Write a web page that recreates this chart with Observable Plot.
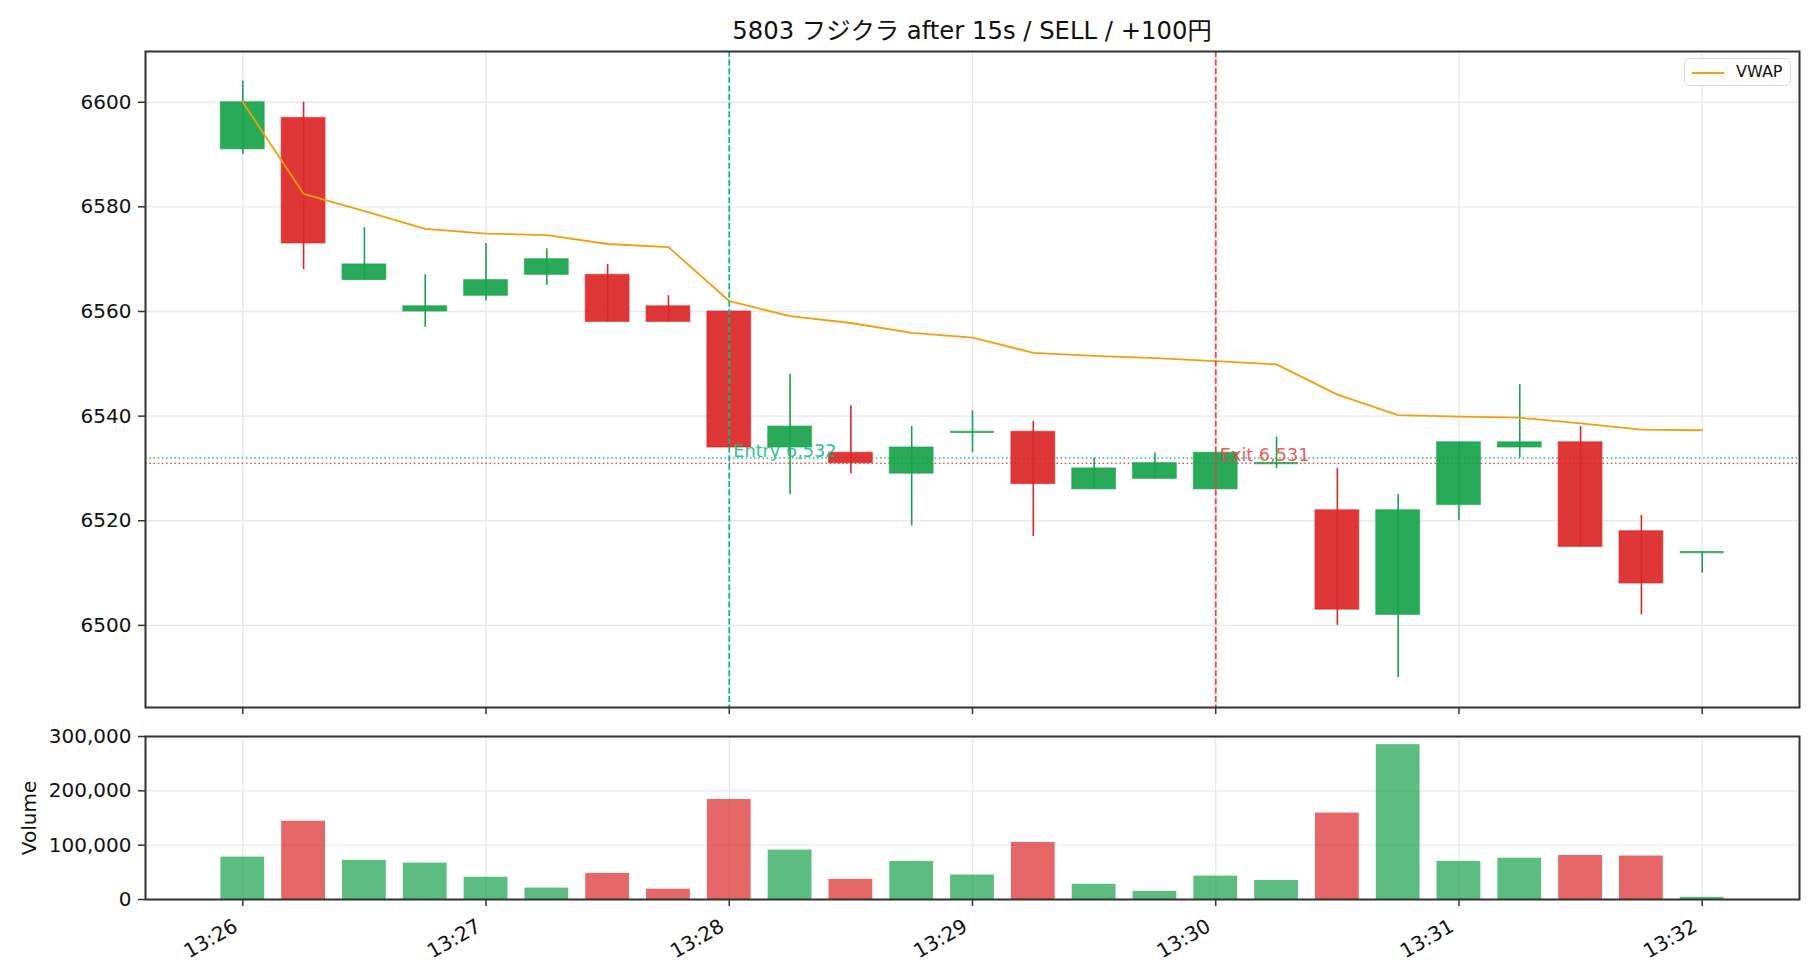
<!DOCTYPE html>
<html>
<head>
<meta charset="utf-8">
<script src="https://cdn.jsdelivr.net/npm/d3@7"></script>
<script src="https://cdn.jsdelivr.net/npm/@observablehq/plot@0.6"></script>
<style>
  html, body { margin: 0; padding: 0; background: #fff; }
  body { width: 1820px; height: 980px; position: relative; overflow: hidden;
         font-family: "DejaVu Sans", "Noto Sans CJK JP", sans-serif; color: #111; }
  #title { position: absolute; top: 16px; left: 145px; width: 1654px; text-align: center;
           font-size: 24.3px; line-height: 30px; color: #111; }
  #main { position: absolute; top: 0; left: 0; }
  #vol { position: absolute; top: 720px; left: 0; }
  #legend { position: absolute; left: 1684px; top: 58px; width: 105px; height: 26px;
            border: 1.5px solid #d9d9d9; border-radius: 5px; background: rgba(255,255,255,0.85); }
  #legend .sw { position: absolute; left: 7px; top: 12.5px; width: 32px; height: 2px; background: #f59e0b; }
  #legend .lb { position: absolute; left: 51px; top: 0; line-height: 26px; font-size: 16px; color: #111; }
  svg { overflow: visible; }
</style>
</head>
<body>
<div id="title">5803 フジクラ after 15s / SELL / +100円</div>
<div id="main"></div>
<div id="vol"></div>
<div id="legend"><div class="sw"></div><div class="lb">VWAP</div></div>
<script>
// ---- data ----
const times   = ["13:26:00","13:26:15","13:26:30","13:26:45","13:27:00","13:27:15","13:27:30","13:27:45",
                 "13:28:00","13:28:15","13:28:30","13:28:45","13:29:00","13:29:15","13:29:30","13:29:45",
                 "13:30:00","13:30:15","13:30:30","13:30:45","13:31:00","13:31:15","13:31:30","13:31:45","13:32:00"];
const opens   = [6591,6597,6566,6560,6563,6567,6567,6561,6560,6534,6533,6529,6537,6537,6526,6528,6526,6531,6522,6502,6523,6534,6535,6518,6514];
const highs   = [6604,6600,6576,6567,6573,6572,6569,6563,6560,6548,6542,6538,6541,6539,6532,6533,6533,6536,6530,6525,6535,6546,6538,6521,6514];
const lows    = [6590,6568,6566,6557,6562,6565,6558,6558,6534,6525,6529,6519,6533,6517,6526,6528,6526,6530,6500,6490,6520,6532,6515,6502,6510];
const closes  = [6600,6573,6569,6561,6566,6570,6558,6558,6534,6538,6531,6534,6537,6527,6530,6531,6533,6531,6503,6522,6535,6535,6515,6508,6514];
const volumes = [78000,144000,72000,67000,41000,21000,48000,19000,184000,91000,37000,70000,45000,105000,28000,15000,43000,35000,159000,285000,70000,76000,81000,80000,4000];
const vwaps   = [6600.0,6582.5,6579.2,6575.8,6574.9,6574.6,6572.9,6572.3,6562.0,6559.1,6557.8,6555.9,6555.0,6552.1,6551.5,6551.1,6550.5,6549.9,6544.1,6540.2,6539.9,6539.7,6538.6,6537.4,6537.3];

const xTickLabels = ["13:26","13:27","13:28","13:29","13:30","13:31","13:32"];
const yTicksPrice = [6500,6520,6540,6560,6580,6600];
const yTicksVol   = [0,100000,200000,300000];

const entryTime = "13:28:00", entryPrice = 6532, entryLabel = "Entry 6,532";
const exitTime  = "13:30:00", exitPrice  = 6531, exitLabel  = "Exit 6,531";
const xDomain = ["13:25:36","13:32:24"];
const priceDomain = [6484.3, 6609.7];
const volDomain = [0, 300000];

// ---- build ----
const parse = d3.utcParse("%H:%M:%S");
const parseHM = d3.utcParse("%H:%M");
const GREEN = "#16a34a", RED = "#dc2626";
const ENTRY_C = "#10b981", EXIT_C = "#ef4444", VWAP_C = "#f59e0b";
const GRID = "#e8e8e8";
const halfW = 5400; // ms, candle half-width (bar width ~0.72 of interval)

const data = times.map((t, i) => ({
  t: parse(t), o: opens[i], h: highs[i], l: lows[i], c: closes[i], v: volumes[i], vw: vwaps[i],
  dir: closes[i] >= opens[i] ? "up" : "down"
}));
const dojis = data.filter(d => d.o === d.c);
const xTicks = xTickLabels.map(parseHM);
const xDom = xDomain.map(parse);
const colorScale = {domain: ["up", "down"], range: [GREEN, RED]};
const fontFamily = '"DejaVu Sans", "Noto Sans CJK JP", sans-serif';

const main = Plot.plot({
  width: 1820, height: 720,
  marginTop: 51, marginBottom: 13, marginLeft: 145, marginRight: 21,
  style: {fontFamily, fontSize: "20px", color: "#111", background: "transparent", overflow: "visible"},
  x: {type: "utc", domain: xDom},
  y: {domain: priceDomain},
  color: colorScale,
  marks: [
    Plot.gridY(yTicksPrice, {stroke: GRID, strokeOpacity: 1, strokeWidth: 1.3}),
    Plot.gridX(xTicks, {stroke: GRID, strokeOpacity: 1, strokeWidth: 1.3}),
    Plot.ruleY([entryPrice], {stroke: ENTRY_C, strokeWidth: 1.6, strokeDasharray: "1.6,2.6", strokeOpacity: 0.9}),
    Plot.ruleY([exitPrice], {stroke: EXIT_C, strokeWidth: 1.6, strokeDasharray: "1.6,2.6", strokeOpacity: 0.9}),
    Plot.ruleX(data, {x: "t", y1: "l", y2: "h", stroke: "dir", strokeWidth: 1.6}),
    Plot.rect(data, {x1: d => new Date(+d.t - halfW), x2: d => new Date(+d.t + halfW),
      y1: "o", y2: "c", fill: "dir", fillOpacity: 0.92, stroke: "dir", strokeOpacity: 0.55, strokeWidth: 1.2}),
    Plot.ruleY(dojis, {x1: d => new Date(+d.t - halfW), x2: d => new Date(+d.t + halfW),
      y: "o", stroke: "dir", strokeOpacity: 0.8, strokeWidth: 2.2}),
    Plot.line(data, {x: "t", y: "vw", stroke: VWAP_C, strokeWidth: 1.8}),
    Plot.ruleX([parse(entryTime)], {stroke: ENTRY_C, strokeWidth: 1.8, strokeDasharray: "6,2.6"}),
    Plot.ruleX([parse(exitTime)], {stroke: EXIT_C, strokeWidth: 1.8, strokeDasharray: "6,2.6"}),
    Plot.text([{x: parse(entryTime), y: entryPrice, s: entryLabel}], {x: "x", y: "y", text: "s",
      textAnchor: "start", lineAnchor: "bottom", dx: 4, dy: -1, fill: ENTRY_C, fillOpacity: 0.9, fontSize: 17.7}),
    Plot.text([{x: parse(exitTime), y: exitPrice, s: exitLabel}], {x: "x", y: "y", text: "s",
      textAnchor: "start", lineAnchor: "bottom", dx: 4, dy: -2, fill: EXIT_C, fillOpacity: 0.9, fontSize: 17.7}),
    Plot.axisY(yTicksPrice, {tickSize: 7, tickPadding: 7, tickFormat: d => String(d), label: null, stroke: "#333", strokeWidth: 1.5}),
    Plot.axisX(xTicks, {tickSize: 7, tickFormat: () => "", label: null, stroke: "#333", strokeWidth: 1.5}),
    Plot.frame({stroke: "#333", strokeWidth: 2})
  ]
});
document.getElementById("main").appendChild(main);

const vol = Plot.plot({
  width: 1820, height: 260,
  marginTop: 16, marginBottom: 81, marginLeft: 145, marginRight: 21,
  style: {fontFamily, fontSize: "20px", color: "#111", background: "transparent", overflow: "visible"},
  x: {type: "utc", domain: xDom},
  y: {domain: volDomain},
  color: colorScale,
  marks: [
    Plot.gridY(yTicksVol, {stroke: GRID, strokeOpacity: 1, strokeWidth: 1.3}),
    Plot.gridX(xTicks, {stroke: GRID, strokeOpacity: 1, strokeWidth: 1.3}),
    Plot.rectY(data, {x1: d => new Date(+d.t - halfW), x2: d => new Date(+d.t + halfW),
      y: "v", fill: "dir", fillOpacity: 0.7}),
    Plot.axisY(yTicksVol, {tickSize: 7, tickPadding: 7, tickFormat: d3.format(","), label: null, stroke: "#333", strokeWidth: 1.5}),
    Plot.axisX(xTicks, {tickSize: 7, tickFormat: () => "", label: null, stroke: "#333", strokeWidth: 1.5}),
    Plot.axisX(xTicks, {tickSize: 0, tickPadding: 0, tickRotate: -30, dx: -7, dy: 25, tickFormat: d3.utcFormat("%H:%M"), label: null}),
    Plot.text(["Volume"], {frameAnchor: "left", textAnchor: "middle", rotate: -90, dx: -116, text: d => d, fontSize: 20, fill: "#111"}),
    Plot.frame({stroke: "#333", strokeWidth: 2})
  ]
});
document.getElementById("vol").appendChild(vol);
</script>
</body>
</html>
